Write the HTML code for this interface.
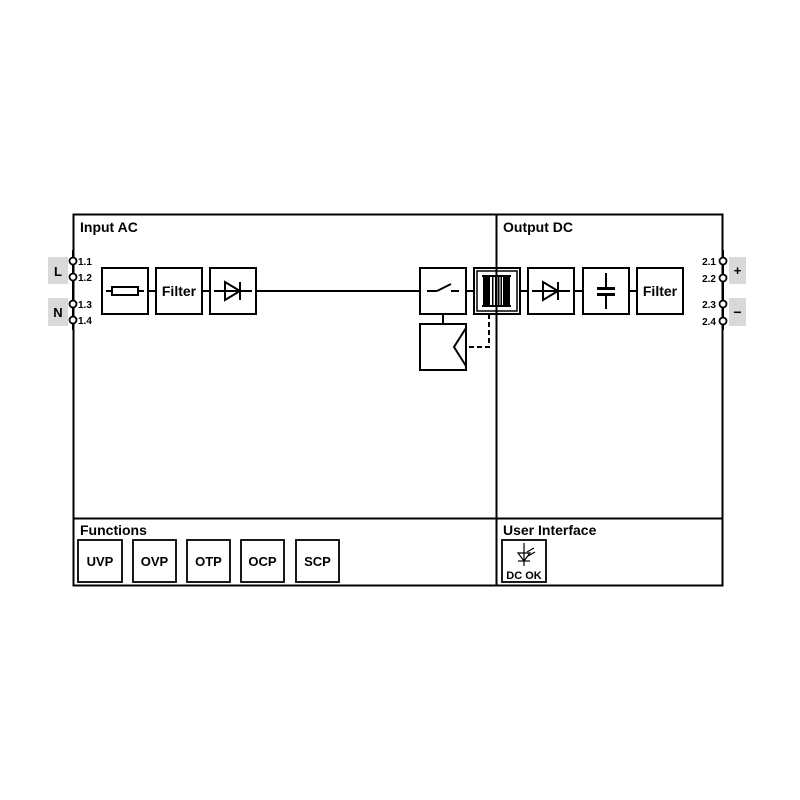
<!DOCTYPE html>
<html><head><meta charset="utf-8"><style>
html,body{margin:0;padding:0;background:#fff;}
svg{display:block;}
text{font-family:"Liberation Sans",Arial,sans-serif;font-weight:bold;fill:#000;}
</style></head><body>
<svg width="800" height="800" viewBox="0 0 800 800" xmlns="http://www.w3.org/2000/svg">
<g fill="none" stroke="#000" stroke-width="2">
<rect x="73.5" y="214.5" width="649" height="371"/>
<line x1="496.5" y1="214" x2="496.5" y2="586"/>
<line x1="73" y1="518.5" x2="723" y2="518.5"/>
<!-- main line -->
<line x1="148" y1="291" x2="156" y2="291"/>
<line x1="202" y1="291" x2="210" y2="291"/>
<line x1="256" y1="291" x2="420" y2="291"/>
<line x1="466" y1="291" x2="474" y2="291"/>
<line x1="520" y1="291" x2="528" y2="291"/>
<line x1="574" y1="291" x2="583" y2="291"/>
<line x1="629" y1="291" x2="637" y2="291"/>
<!-- boxes -->
<rect x="102" y="268" width="46" height="46"/>
<rect x="156" y="268" width="46" height="46"/>
<rect x="210" y="268" width="46" height="46"/>
<rect x="420" y="268" width="46" height="46"/>
<rect x="474" y="268" width="46" height="46"/>
<rect x="477" y="271" width="40" height="40" stroke-width="1.5"/>
<rect x="528" y="268" width="46" height="46"/>
<rect x="583" y="268" width="46" height="46"/>
<rect x="637" y="268" width="46" height="46"/>
<rect x="420" y="324" width="46" height="46"/>
<line x1="443" y1="314" x2="443" y2="324"/>
<polyline points="466,328 454,347 466,366"/>
<polyline points="489,314 489,347 466,347" stroke-dasharray="5,3"/>
<!-- fuse -->
<line x1="106" y1="291" x2="144" y2="291"/>
<rect x="112" y="287" width="26" height="8" fill="#fff"/>
<!-- diodes -->
<line x1="214" y1="291" x2="252" y2="291"/>
<polygon points="225,282 225,300 240,291"/>
<line x1="240" y1="282" x2="240" y2="300"/>
<line x1="532" y1="291" x2="570" y2="291"/>
<polygon points="543,282 543,300 558,291"/>
<line x1="558" y1="282" x2="558" y2="300"/>
<!-- switch -->
<line x1="427" y1="291" x2="437" y2="291"/>
<line x1="437" y1="291" x2="451" y2="284"/>
<line x1="451" y1="291" x2="459" y2="291"/>
<!-- cap -->
<line x1="606" y1="273" x2="606" y2="287"/>
<line x1="606" y1="295" x2="606" y2="309"/>
<!-- terminals -->
<line x1="73" y1="250" x2="73" y2="330"/>
<line x1="723" y1="250" x2="723" y2="330"/>
</g>
<rect x="597" y="287" width="18" height="3"/>
<rect x="597" y="293" width="18" height="3"/>
<!-- transformer core -->
<rect x="482" y="275" width="29" height="2"/>
<rect x="482" y="305" width="29" height="2"/>
<rect x="483" y="276" width="7" height="30"/>
<rect x="503" y="276" width="7" height="30"/>
<rect x="492" y="276" width="1.5" height="30"/>
<rect x="495" y="276" width="1.5" height="30"/>
<rect x="498" y="276" width="1.5" height="30"/>
<rect x="500.5" y="276" width="1.5" height="30"/>
<g fill="#fff" stroke="#000" stroke-width="1.8">
<circle cx="73" cy="261" r="3.5"/><circle cx="73" cy="277" r="3.5"/>
<circle cx="73" cy="304" r="3.5"/><circle cx="73" cy="320" r="3.5"/>
<circle cx="723" cy="261" r="3.5"/><circle cx="723" cy="278" r="3.5"/>
<circle cx="723" cy="304" r="3.5"/><circle cx="723" cy="321" r="3.5"/>
</g>
<rect x="48" y="257" width="20" height="27" fill="#d9d9d9"/>
<rect x="48" y="298" width="20" height="28" fill="#d9d9d9"/>
<rect x="729" y="257" width="17" height="27" fill="#d9d9d9"/>
<rect x="729" y="298" width="17" height="28" fill="#d9d9d9"/>
<text x="58" y="276" font-size="13" text-anchor="middle">L</text>
<text x="58" y="317" font-size="13" text-anchor="middle">N</text>
<text x="737.5" y="275" font-size="13" text-anchor="middle">+</text>
<text x="737.5" y="317" font-size="14" text-anchor="middle">−</text>
<g font-size="10">
<text x="78" y="265">1.1</text><text x="78" y="281">1.2</text>
<text x="78" y="308">1.3</text><text x="78" y="324">1.4</text>
<text x="716" y="265" text-anchor="end">2.1</text><text x="716" y="282" text-anchor="end">2.2</text>
<text x="716" y="308" text-anchor="end">2.3</text><text x="716" y="325" text-anchor="end">2.4</text>
</g>
<g font-size="14">
<text x="80" y="232">Input AC</text>
<text x="503" y="232">Output DC</text>
<text x="80" y="535">Functions</text>
<text x="503" y="535">User Interface</text>
<text x="179" y="296" text-anchor="middle">Filter</text>
<text x="660" y="296" text-anchor="middle">Filter</text>
</g>
<g fill="none" stroke="#000" stroke-width="1.8">
<rect x="78" y="540" width="44" height="42"/>
<rect x="133" y="540" width="43" height="42"/>
<rect x="187" y="540" width="43" height="42"/>
<rect x="241" y="540" width="43" height="42"/>
<rect x="296" y="540" width="43" height="42"/>
<rect x="502" y="540" width="44" height="42"/>
<line x1="524" y1="543" x2="524" y2="566" stroke-width="1.2"/>
<polygon points="518,553 530,553 524,561" stroke-width="1.2"/>
<line x1="518" y1="561" x2="530" y2="561" stroke-width="1.2"/>
<line x1="527" y1="552" x2="534" y2="548" stroke-width="1.2"/>
<line x1="528" y1="556" x2="535" y2="552" stroke-width="1.2"/>
</g>
<g font-size="13" text-anchor="middle">
<text x="100" y="566">UVP</text>
<text x="154.5" y="566">OVP</text>
<text x="208.5" y="566">OTP</text>
<text x="262.5" y="566">OCP</text>
<text x="317.5" y="566">SCP</text>
</g>
<text x="524" y="579" font-size="11" text-anchor="middle">DC OK</text>
</svg>
</body></html>
